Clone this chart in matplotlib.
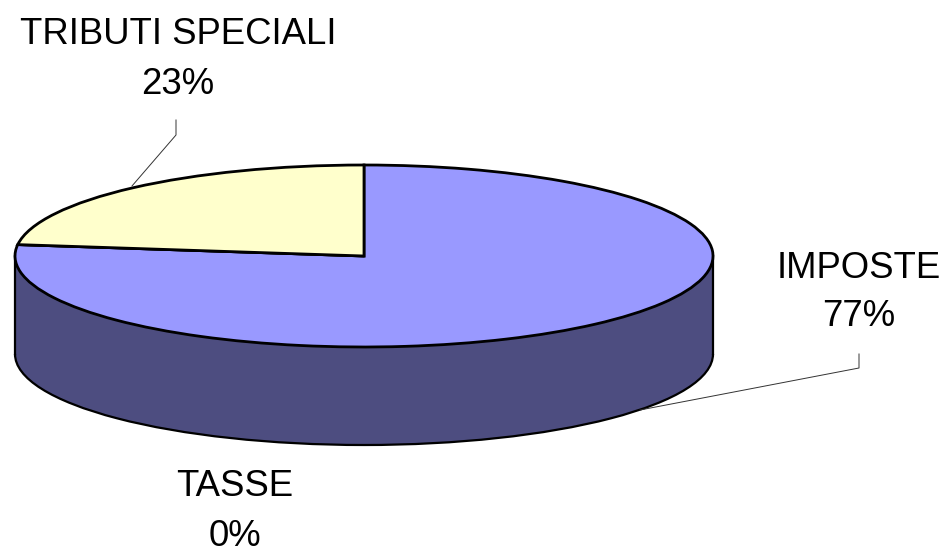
import matplotlib
matplotlib.use("Agg")
import matplotlib.pyplot as plt
from matplotlib.patches import Arc

categories = ["IMPOSTE", "TASSE", "TRIBUTI SPECIALI"]
values = [77, 0, 23]
top_colors = ["#9999ff", "#993366", "#ffffcc"]
side_colors = ["#4d4d80", "#4d4d80", "#4d4d80"]

# pie geometry in image pixels
W, H = 948, 551
CX, CY = 364, 256
RX, RY = 349, 91
DEPTH = 98


def dx(px):
    return (px - CX) / RX


def dy(py):
    return (CY - py) / RY


plt.rcParams["font.family"] = ["Liberation Sans", "DejaVu Sans"]

fig = plt.figure(figsize=(W / 100, H / 100), dpi=100)
ax = fig.add_axes([0, 0, 1, 1])

# side wall: the same pie pushed down, plus the band joining it to the top
ax.pie(values, colors=side_colors, startangle=90, counterclock=False,
       center=(0, -DEPTH / RY), radius=1,
       wedgeprops={"edgecolor": "none", "linewidth": 0})
ax.fill_between([-1, 1], 0, -DEPTH / RY, color="#4d4d80", lw=0, zorder=2)
ax.add_patch(Arc((0, -DEPTH / RY), 2, 2, theta1=180, theta2=360,
                 color="black", lw=1.6, zorder=3))
ax.plot([-1, -1], [0, -DEPTH / RY], color="black", lw=1.6, zorder=3)
ax.plot([1, 1], [0, -DEPTH / RY], color="black", lw=1.6, zorder=3)

# top face
ax.pie(values, colors=top_colors, startangle=90, counterclock=False,
       center=(0, 0), radius=1,
       wedgeprops={"edgecolor": "black", "linewidth": 2.0, "zorder": 4})

ax.set_aspect("auto")
ax.set_xlim(dx(0), dx(W))
ax.set_ylim(dy(H), dy(0))
ax.axis("off")

# leader lines
ax.plot([dx(132), dx(176), dx(176)], [dy(186), dy(135), dy(120)],
        color="#333333", lw=0.7, zorder=5)
ax.plot([dx(640), dx(859), dx(859)], [dy(410), dy(368), dy(354)],
        color="#333333", lw=0.7, zorder=5)

label_pos = {"IMPOSTE": (859, 268, 317),
             "TASSE": (235, 486, 536),
             "TRIBUTI SPECIALI": (178, 34, 85)}
for name, val in zip(categories, values):
    x, y1, y2 = label_pos[name]
    ax.text(dx(x), dy(y1), name, ha="center", va="center", fontsize=26.3, color="black")
    ax.text(dx(x), dy(y2), f"{val}%", ha="center", va="center", fontsize=26.3, color="black")

fig.savefig("out.png", dpi=100)
plt.close(fig)
